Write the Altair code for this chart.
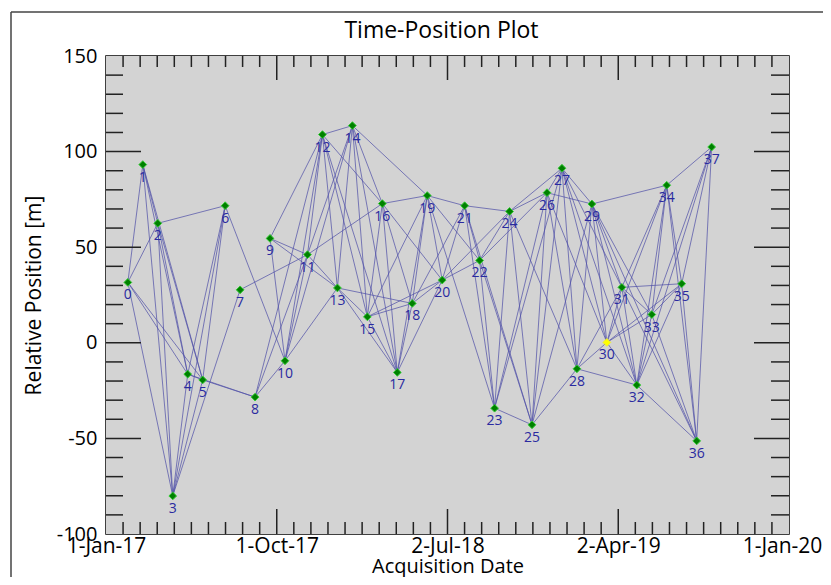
import altair as alt
import pandas as pd

# ---------------- data ----------------
acq_dates = [
    "2017-02-05", "2017-03-01", "2017-03-25", "2017-04-18", "2017-05-12",
    "2017-06-05", "2017-07-11", "2017-08-04", "2017-08-28", "2017-09-21",
    "2017-10-15", "2017-11-20", "2017-12-14", "2018-01-07", "2018-01-31",
    "2018-02-24", "2018-03-20", "2018-04-13", "2018-05-07", "2018-05-31",
    "2018-06-24", "2018-07-30", "2018-08-23", "2018-09-16", "2018-10-10",
    "2018-11-15", "2018-12-09", "2019-01-02", "2019-01-26", "2019-02-19",
    "2019-03-15", "2019-04-08", "2019-05-02", "2019-05-26", "2019-06-19",
    "2019-07-13", "2019-08-06", "2019-08-30",
]
positions = [
    31.6, 93.2, 62.5, -80.1, -16.4, -19.4, 71.7, 27.7, -28.4, 54.6,
    -9.4, 46.1, 108.9, 28.7, 113.6, 13.6, 72.8, -15.5, 20.6, 77.0,
    32.8, 71.7, 43.1, -34.2, 68.7, -42.9, 78.5, 91.3, -13.6, 72.6,
    0.2, 29.0, -22.1, 14.8, 82.4, 30.9, -51.3, 102.4,
]
super_master = 30

# connections (pairs of acquisition indices)
connections = {
    0: [1, 2, 3, 4, 5], 1: [2, 3, 4, 5], 2: [3, 4, 5, 6], 3: [4, 5, 6, 7],
    4: [5, 6, 8], 5: [6, 8], 6: [10], 7: [11], 8: [10, 11, 12],
    9: [10, 11, 12, 13], 10: [11, 12, 13, 14], 11: [12, 13, 14, 16],
    12: [13, 14, 15, 16, 17], 13: [14, 15, 17, 18], 14: [15, 16, 17, 19],
    15: [16, 17, 18, 19, 20], 16: [17, 18, 19, 20], 17: [18, 19, 20],
    18: [19, 20, 21], 19: [20, 21, 22, 23], 20: [21, 22, 24],
    21: [22, 23, 24, 25], 22: [23, 24, 25, 26], 23: [24, 25, 26, 27],
    24: [25, 26, 27, 28], 25: [26, 27, 28, 29], 26: [27, 28, 29, 30],
    27: [28, 29, 30, 31, 32], 28: [29, 30, 31, 32],
    29: [30, 31, 32, 33, 34, 36], 30: [31, 32, 33, 34, 35],
    31: [32, 33, 34, 35, 36], 32: [33, 34, 35, 36, 37],
    33: [34, 35, 36, 37], 34: [35, 36, 37], 35: [36, 37], 36: [37],
}

x_tick_labels = ["1-Jan-17", "1-Oct-17", "2-Jul-18", "2-Apr-19", "1-Jan-20"]
y_tick_values = [-100, -50, 0, 50, 100, 150]

# ---------------- derived tables ----------------
origin = pd.Timestamp("2017-01-01")
span_days = 1095.0
days = [(pd.Timestamp(d) - origin).days for d in acq_dates]

pts = pd.DataFrame({
    "day": days,
    "pos": positions,
    "label": [str(i) for i in range(len(days))],
    "kind": ["master" if i == super_master else "slave" for i in range(len(days))],
})

rows = []
for a, targets in connections.items():
    for b in targets:
        rows.append({"x": days[a], "y": positions[a], "xb": days[b], "yb": positions[b]})
edges = pd.DataFrame(rows)

x_major_all = [i * span_days / 4 for i in range(5)]
x_major_in = x_major_all[1:-1]
x_minor = [i * span_days / 40 for i in range(1, 40) if i % 10 != 0]
y_major_in = [-50, 0, 50, 100]
y_minor = [v for v in range(-90, 150, 10) if v % 50 != 0]

W, H = 683, 478
FONT = "Open Sans"
TICK = "#222222"

x_scale = alt.Scale(domain=[0, span_days], nice=False, zero=False)
y_scale = alt.Scale(domain=[-100, 150], nice=False, zero=False)

label_js = "[" + ",".join("'%s'" % s for s in x_tick_labels) + "]"
x_axis = alt.Axis(
    values=x_major_all, labelExpr=label_js + "[round(datum.value/%f)]" % (span_days / 4),
    ticks=False, domain=False, grid=False, labelFlush=False, labelOverlap=False,
    labelOffset=alt.expr("datum.value >= %f ? -7 : 0" % span_days),
    labelFont=FONT, labelFontSize=21, labelColor="black", labelPadding=1,
    title="Acquisition Date", titleFont=FONT, titleFontSize=20,
    titleFontWeight="normal", titleColor="black", titlePadding=0,
)
y_axis = alt.Axis(
    values=y_tick_values, ticks=False, domain=False, grid=False,
    labelFlush=False, labelOverlap=False,
    labelExpr="datum.value < 0 ? '-' + abs(datum.value) : '' + datum.value",
    labelFont=FONT, labelFontSize=20, labelColor="black", labelPadding=9,
    title="Relative Position [m]", titleFont=FONT, titleFontSize=21,
    titleFontWeight="normal", titleColor="black", titlePadding=12,
)


def X(f):
    return alt.X(f + ":Q", scale=x_scale, axis=x_axis)


def Y(f):
    return alt.Y(f + ":Q", scale=y_scale, axis=y_axis)


one = pd.DataFrame({"k": [0]})

plot_bg = alt.Chart(one).mark_rect(color="#d3d3d3").encode(
    x=alt.value(0), y=alt.value(0), x2=alt.value(W), y2=alt.value(H)
)

lines = alt.Chart(edges).mark_rule(color="#5050a8", opacity=0.72, strokeWidth=1).encode(
    x=X("x"), y=Y("y"), x2="xb:Q", y2="yb:Q"
)

points = alt.Chart(pts).mark_point(shape="diamond", filled=True, size=60, opacity=1,
                                   strokeWidth=1).encode(
    x=X("day"), y=Y("pos"),
    fill=alt.Fill("kind:N", scale=alt.Scale(domain=["slave", "master"],
                                            range=["#008000", "#ffff00"]), legend=None),
    stroke=alt.Stroke("kind:N", scale=alt.Scale(domain=["slave", "master"],
                                                range=["#33cc33", "#eeee33"]), legend=None),
)

labels = alt.Chart(pts).mark_text(dy=13, fontSize=14, font=FONT, color="#2a2aa0").encode(
    x=X("day"), y=Y("pos"), text="label:N"
)


def xticks(vals, length, side):
    d = pd.DataFrame({"t": vals})
    if side == "top":
        yy, yy2 = 0, length
    else:
        yy, yy2 = H, H - length
    return alt.Chart(d).mark_rule(color=TICK, strokeWidth=1.5).encode(
        x=X("t"), y=alt.value(yy), y2=alt.value(yy2)
    )


def yticks(vals, length, side):
    d = pd.DataFrame({"t": vals})
    if side == "left":
        xx, xx2 = 0, length
    else:
        xx, xx2 = W, W - length
    return alt.Chart(d).mark_rule(color=TICK, strokeWidth=1.5).encode(
        y=Y("t"), x=alt.value(xx), x2=alt.value(xx2)
    )


tick_layers = [
    xticks(x_minor, 11, "top"), xticks(x_major_in, 24, "top"),
    xticks(x_minor, 12, "bottom"), xticks(x_major_in, 25, "bottom"),
    yticks(y_minor, 17, "left"), yticks(y_major_in, 35, "left"),
    yticks(y_minor, 18, "right"), yticks(y_major_in, 35, "right"),
]

# outer figure frame (only its top and left edges are inside the picture)
frame_top = alt.Chart(one).mark_rule(color="#444444", strokeWidth=1.5).encode(
    x=alt.value(-95), x2=alt.value(W + 300), y=alt.value(-44)
)
frame_left = alt.Chart(one).mark_rule(color="#444444", strokeWidth=1.5).encode(
    x=alt.value(-95), y=alt.value(-44), y2=alt.value(H + 300)
)

chart = alt.layer(frame_top, frame_left, plot_bg, lines, points, labels, *tick_layers).properties(
    width=W, height=H,
    title=alt.Title("Time-Position Plot", font=FONT, fontSize=23, fontWeight="normal",
                    color="black", anchor="middle", frame="group", baseline="alphabetic",
                    offset=0, dy=50, dx=-6),
    padding={"left": 98, "top": 48, "right": 34, "bottom": 43},
    autosize=alt.AutoSizeParams(type="none"),
).configure(
    background="white"
).configure_view(
    stroke="black", strokeWidth=1.5
)

chart.save("out.html", embed_options={"renderer": "svg", "actions": False})
